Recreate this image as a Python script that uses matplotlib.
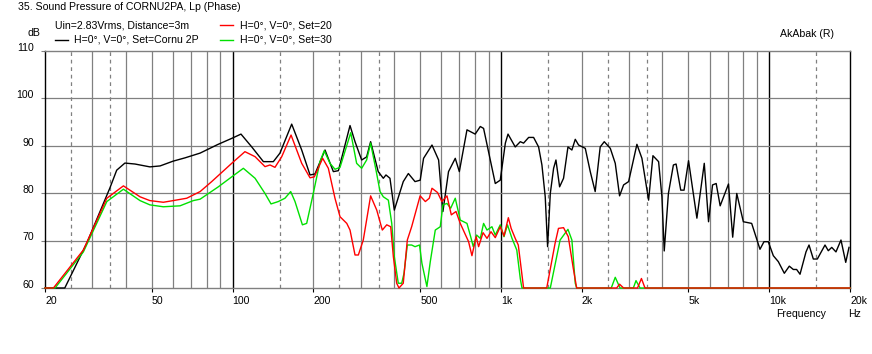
import matplotlib
matplotlib.use("Agg")
import matplotlib.pyplot as plt
from matplotlib.lines import Line2D
from matplotlib.ticker import NullLocator, FixedLocator

plt.rcParams['font.family'] = ['Liberation Sans', 'DejaVu Sans']

# ---- data (frequency Hz, level dB) ----
black_pts = [(20, 60), (23.7, 60), (28.6, 69.4), (34.9, 81.05), (37.0, 84.8), (39.7, 86.3), (43.3, 86.1),
             (49.2, 85.5), (53.7, 85.7), (60.0, 86.7), (66.5, 87.4), (75.7, 88.4), (88, 90.2), (99.3, 91.5),
             (107.5, 92.4), (117.9, 89.7), (130.3, 86.6), (141.9, 86.6), (150.2, 88.4), (166.1, 94.5),
             (181.0, 89.05), (194.4, 83.8), (202.8, 84.0), (221.1, 89.05), (237.5, 84.5), (248, 84.7),
             (274, 94.2), (286, 90.8), (302.8, 86.95), (316, 87.6), (327, 90.8), (349, 84.5), (364.6, 83.1),
             (373, 83.8), (386, 83.1), (400.7, 76.4), (432.7, 82.4), (452, 84.1), (478.6, 82.4), (500.4, 82.7),
             (515, 87.3), (553.6, 90.1), (586, 86.95), (608, 76.1), (638, 84.5), (676, 87.3), (700, 84.5),
             (747.5, 93.3), (802, 92.4), (838, 94.0), (862, 93.6), (953, 82.0), (994.5, 82.7), (1039, 90.5),
             (1063, 92.4), (1131, 89.7), (1181, 90.8), (1215, 90.5), (1269, 91.7), (1324, 91.7), (1382, 89.7),
             (1422, 85.9), (1463, 79.2), (1493, 68.7), (1528, 79.9), (1572, 85.2), (1604, 86.95), (1655, 81.3),
             (1712, 83.1), (1778, 89.7), (1839, 89.05), (1893, 91.3), (1948, 90.1), (2063, 89.4), (2153, 84.5),
             (2246, 80.3), (2345, 89.7), (2428, 90.8), (2557, 89.4), (2668, 86.25), (2769, 79.4), (2866, 81.7),
             (2992, 82.4), (3213, 90.25), (3354, 87.3), (3552, 78.5), (3687, 87.85), (3870, 86.6), (3982, 79.2),
             (4062, 67.8), (4210, 79.9), (4394, 85.9), (4497, 86.1), (4680, 80.6), (4815, 80.6), (5004, 86.8),
             (5376, 74.7), (5727, 86.25), (5941, 73.95), (6148, 81.7), (6343, 82.0), (6564, 77.3), (7051, 81.9),
             (7309, 70.7), (7568, 79.9), (8008, 73.95), (8602, 73.6), (9238, 68.15), (9560, 69.75),
             (9918, 69.75), (10358, 66.8), (10812, 65.55), (11383, 63.1), (11881, 64.6), (12296, 63.9),
             (12652, 63.9), (13025, 62.9), (13710, 67.6), (14070, 69.05), (14600, 66.1), (15110, 66.1),
             (16140, 69.05), (16600, 67.85), (17100, 68.55), (17730, 67.6), (18510, 70.1), (19280, 65.4),
             (19830, 68.55)]

red_pts = [(20, 60), (21.5, 60), (27.8, 68), (34.0, 78.9), (39.2, 81.5), (45.2, 79.2), (49.2, 78.4),
           (55.2, 78.05), (60.1, 78.4), (67.5, 78.9), (75.7, 80.3), (83.6, 82.4), (99.3, 86.25), (111.2, 88.7),
           (121.3, 87.65), (132.1, 85.55), (137.9, 85.9), (143.9, 85.4), (152.5, 87.65), (165.2, 92.2),
           (181, 86.25), (194.4, 83.2), (201.7, 83.4), (216.7, 87.3), (227.5, 85.2), (240.8, 78.9),
           (251.5, 75.0), (266.5, 73.6), (274, 72.2), (286, 66.95), (294.3, 66.95), (307, 70.1), (327, 79.4),
           (344.6, 76.4), (361.5, 72.2), (375.5, 73.3), (388.5, 72.9), (397.4, 66.6), (409, 61.0), (417, 60),
           (432.7, 61.0), (448, 70.1), (465, 72.9), (500, 79.4), (523, 78.2), (541, 78.9), (553.6, 81.0),
           (580.7, 80.1), (602.6, 78.2), (629.6, 79.4), (653.4, 75.4), (680.3, 76.1), (705.7, 73.6),
           (757.9, 69.75), (780, 66.8), (809, 70.8), (826, 68.7), (858, 71.65), (887.6, 70.45), (918.6, 71.85),
           (953, 70.6), (994.5, 72.9), (1027, 70.95), (1066, 74.8), (1092, 72.55), (1131, 70.45),
           (1161, 69.05), (1215, 60), (1482, 60), (1592, 69.4), (1639, 72.55), (1712, 72.7), (1783, 70.8),
           (1861, 64.15), (1916, 60), (2700, 60), (2769, 60.8), (2866, 60), (3230, 60), (3340, 62.0),
           (3444, 60), (20000, 60)]

green_pts = [(20, 60), (21.8, 60), (27.8, 67.6), (34, 78.2), (39.2, 80.8), (45.2, 78.4), (49.2, 77.5),
             (55.2, 77.1), (63.7, 77.3), (71.4, 78.4), (75.7, 78.7), (88.5, 81.3), (99.3, 83.4), (109.7, 85.2),
             (121.3, 83.1), (132.1, 79.9), (139.1, 77.7), (148.1, 78.2), (156.8, 78.9), (164.7, 80.3),
             (170.9, 78.2), (182.1, 73.3), (188.9, 73.6), (199.9, 79.9), (211.7, 86.6), (219.6, 88.9),
             (230.7, 86.25), (240.8, 85), (251.5, 85.4), (275.7, 92.7), (290, 86.25), (302.8, 85.2),
             (316, 86.95), (327, 90.5), (342.5, 84.8), (354.5, 80.3), (364.6, 79.2), (380.7, 78.5), (392, 73.6),
             (400.7, 66.6), (414.6, 61.0), (427, 61.0), (435.5, 63.1), (448, 69.05), (465, 69.05),
             (478.6, 68.7), (497.5, 69.05), (507.8, 65.2), (530, 60.3), (545.6, 65.55), (569.5, 72.2),
             (594.4, 72.9), (608, 77.5), (629.6, 77.8), (650, 76.8), (676, 78.9), (705.7, 74.3), (747.5, 73.6),
             (771.6, 70.8), (789, 68.7), (812, 71.15), (838, 70.45), (862, 73.6), (887.6, 72.2), (926, 72.9),
             (953, 71.15), (994.5, 73.3), (1027, 70.8), (1058, 73.3), (1069, 72.55), (1100, 70.45),
             (1146, 68.0), (1181, 62.0), (1198, 60), (1528, 60), (1662, 70.1), (1778, 72.35), (1839, 70.1),
             (1893, 61.0), (1916, 60), (2578, 60), (2668, 62.25), (2780, 60), (3116, 60), (3188, 61.55),
             (3300, 60), (20000, 60)]

x_ticks = [20, 50, 100, 200, 500, 1000, 2000, 5000, 10000, 20000]
x_tick_labels = ['20', '50', '100', '200', '500', '1k', '2k', '5k', '10k', '20k']
y_ticks = [60, 70, 80, 90, 100, 110]

grid_solid = [30, 40, 50, 60, 70, 80, 90, 200, 300, 400, 500, 600, 700, 800, 900,
              2000, 3000, 4000, 5000, 6000, 7000, 8000, 9000]
grid_dashed = [25, 35, 150, 250, 350, 1500, 2500, 3500, 15000]
grid_major = [100, 1000, 10000]

W, H = 872, 354
fig = plt.figure(figsize=(W / 100, H / 100), dpi=100)
fig.patch.set_facecolor('white')

x0, x1, y0, y1 = 45, 850, 50.5, 288
ax = fig.add_axes([x0 / W, 1 - y1 / H, (x1 - x0) / W, (y1 - y0) / H])
ax.set_xscale('log')
ax.set_xlim(20, 20000)
ax.set_ylim(60, 110)

GRAY = '#808080'
for f in grid_solid:
    ax.axvline(f, color=GRAY, lw=0.9, zorder=1)
for f in grid_dashed:
    ax.axvline(f, color=GRAY, lw=0.9, ls=(0, (3, 3)), zorder=1)
for f in grid_major:
    ax.axvline(f, color='black', lw=1.0, zorder=1)
for v in [70, 80, 90, 100]:
    ax.axhline(v, color=GRAY, lw=0.9, zorder=1)

for pts, col in [(black_pts, 'black'), (green_pts, '#00e000'), (red_pts, '#ff0000')]:
    fx, fy = zip(*pts)
    ax.plot(fx, fy, color=col, lw=1.0, zorder=3, clip_on=False)

for side in ['left', 'right']:
    ax.spines[side].set_color('black')
    ax.spines[side].set_linewidth(1.0)
for side in ['top', 'bottom']:
    ax.spines[side].set_color(GRAY)
    ax.spines[side].set_linewidth(1.0)

FS = 7.6
ax.xaxis.set_minor_locator(NullLocator())
ax.xaxis.set_major_locator(FixedLocator(x_ticks))
ax.set_xticklabels(x_tick_labels)
for lbl in ax.get_xticklabels():
    lbl.set_ha('left')
ax.set_yticks(y_ticks)
ax.set_yticklabels([str(v) for v in y_ticks])
for lbl in ax.get_yticklabels():
    lbl.set_va('baseline')
ax.tick_params(axis='x', length=3, width=0.8, color='black', pad=3, labelsize=FS)
ax.tick_params(axis='y', length=3, width=0.8, color=GRAY, pad=5, labelsize=FS)


def ft(x, y, s, **kw):
    fig.text(x / W, 1 - y / H, s, fontsize=FS, va='center', **kw)


ft(18, 7.5, '35. Sound Pressure of CORNU2PA, Lp (Phase)')
ft(55, 25, 'Uin=2.83Vrms, Distance=3m')
ft(74, 39, 'H=0°, V=0°, Set=Cornu 2P')
ft(240, 25, 'H=0°, V=0°, Set=20')
ft(240, 39, 'H=0°, V=0°, Set=30')
ft(27, 33, 'dB')
ft(780, 34, 'AkAbak (R)')
ft(776, 314, 'Frequency')
ft(848, 314, 'Hz')

for (xa, xb, yy, col) in [(55, 68, 39.5, 'black'), (220, 233, 24.5, '#ff0000'), (220, 233, 39.5, '#00e000')]:
    fig.add_artist(Line2D([xa / W, xb / W], [1 - yy / H, 1 - yy / H], color=col, lw=1.0,
                          transform=fig.transFigure))

fig.savefig('out.png', dpi=100, facecolor='white')
